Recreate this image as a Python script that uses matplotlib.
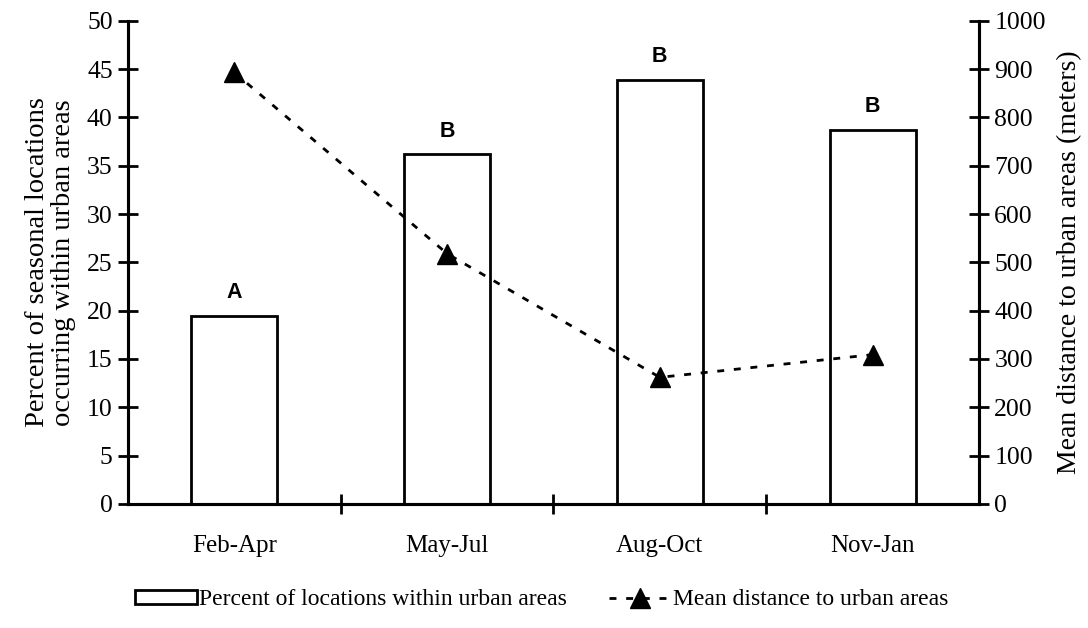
import numpy as np
import matplotlib
matplotlib.use("Agg")
import matplotlib.pyplot as plt

# seasons and values
seasons = ["Feb-Apr", "May-Jul", "Aug-Oct", "Nov-Jan"]
pct_urban = [19.5, 36.2, 43.9, 38.7]
mean_dist = [893, 518, 262, 309]
groups = ["A", "B", "B", "B"]

plt.rcParams["font.family"] = ["Liberation Serif", "DejaVu Serif"]

fig = plt.figure(figsize=(10.88, 6.28), dpi=100)
ax = fig.add_axes([0.1176, 0.1975, 0.7822, 0.7695])
ax2 = ax.twinx()

x = np.arange(len(seasons))
bars = ax.bar(x, pct_urban, width=0.405, facecolor="white", edgecolor="black",
              linewidth=2, zorder=2, label="Percent of locations within urban areas")
for xi, v, g in zip(x, pct_urban, groups):
    ax.annotate(g, (xi, v), xytext=(0, 9), textcoords="offset points",
                ha="center", va="bottom", fontsize=15.5, fontweight="bold",
                family=["Liberation Sans", "DejaVu Sans"])

ln, = ax2.plot(x, mean_dist, color="black", linestyle=(0, (2.5, 3.5)), linewidth=2,
               marker="^", markersize=15, label="Mean distance to urban areas")

ax.set_xlim(-0.5, 3.5)
ax.set_ylim(0, 50)
ax2.set_ylim(0, 1000)
ax.set_yticks(np.arange(0, 51, 5))
ax2.set_yticks(np.arange(0, 1001, 100))
ax.set_xticks([0.5, 1.5, 2.5])
ax.set_xticklabels([])
ax.set_xticks(x, minor=True)
ax.set_xticklabels(seasons, minor=True)

for a in (ax, ax2):
    a.spines["top"].set_visible(False)
    for s in ("left", "right", "bottom"):
        a.spines[s].set_linewidth(2.2)
    a.tick_params(axis="y", direction="inout", length=14, width=2, labelsize=18.5, pad=4)
ax.tick_params(axis="x", which="major", direction="inout", length=14, width=2)
ax.tick_params(axis="x", which="minor", length=0, labelsize=18, pad=22)

ax.set_ylabel("Percent of seasonal locations\noccurring within urban areas",
              fontsize=20.5, labelpad=8, linespacing=1.05)
ax2.set_ylabel("Mean distance to urban areas (meters)", fontsize=20, labelpad=8)

fig.legend([bars, ln], [bars.get_label(), ln.get_label()], loc="center",
           bbox_to_anchor=(0.498, 0.045), ncol=2, frameon=False, fontsize=17,
           handlelength=2.6, handleheight=0.5, handletextpad=0.1, columnspacing=1.8)

fig.savefig("out.png", dpi=100)
